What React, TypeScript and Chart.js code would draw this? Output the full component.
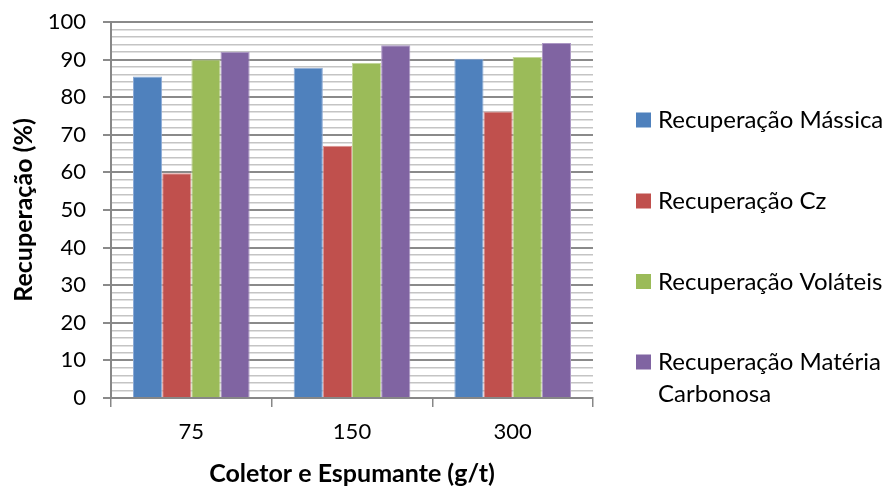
import React, { useEffect, useRef } from "react";
import { Chart, registerables } from "chart.js";

Chart.register(...registerables);

const categories = ["75", "150", "300"];
const seriesNames = [
  "Recuperação Mássica",
  "Recuperação Cz",
  "Recuperação Voláteis",
  "Recuperação Matéria Carbonosa",
];
const massica = [85.5, 87.8, 90.2];
const cz = [59.8, 67.1, 76.2];
const volateis = [90.0, 89.1, 90.7];
const materiaCarbonosa = [92.1, 93.8, 94.4];
const colors = ["#4F81BD", "#C0504D", "#9BBB59", "#8064A2"];
const borderColors = ["#8AAAD6", "#DC9290", "#C3D69B", "#AC97C4"];
const legendLines = [
  ["Recuperação Mássica"],
  ["Recuperação Cz"],
  ["Recuperação Voláteis"],
  ["Recuperação Matéria", "Carbonosa"],
];

const FONT = "Lato, 'Open Sans', sans-serif";

const legendPlugin = {
  id: "customLegend",
  afterDraw(chart: any) {
    const ctx = chart.ctx;
    ctx.save();
    ctx.font = `24px ${FONT}`;
    ctx.textAlign = "left";
    ctx.textBaseline = "alphabetic";
    const centers = [120, 201, 281.5, 362];
    chart.data.datasets.forEach((ds: any, i: number) => {
      const cy = centers[i];
      ctx.fillStyle = ds.backgroundColor;
      ctx.fillRect(636, cy - 7.5, 15, 15);
      ctx.fillStyle = "#000";
      legendLines[i].forEach((line, j) => {
        ctx.fillText(line, 658, cy + 8 + j * 32);
      });
    });
    ctx.restore();
  },
};

export default function App() {
  const ref = useRef<HTMLCanvasElement | null>(null);
  useEffect(() => {
    document.body.style.margin = "0";
    const data = [massica, cz, volateis, materiaCarbonosa];
    const chart = new Chart(ref.current as HTMLCanvasElement, {
      type: "bar",
      data: {
        labels: categories,
        datasets: seriesNames.map((name, i) => ({
          label: name,
          data: data[i],
          backgroundColor: colors[i],
          borderColor: borderColors[i],
          borderWidth: 1,
          barPercentage: 1,
          categoryPercentage: 0.726,
        })),
      },
      options: {
        responsive: false,
        animation: false,
        layout: { padding: { top: 22, right: 301, left: 0, bottom: 0 } },
        plugins: {
          legend: { display: false },
          tooltip: { enabled: false },
        },
        scales: {
          x: {
            afterFit: (s: any) => {
              s.height = 91;
              s.paddingLeft = 0;
              s.paddingRight = 0;
            },
            grid: {
              offset: true,
              drawOnChartArea: false,
              drawTicks: true,
              tickLength: 9,
              color: "#878787",
              lineWidth: 1.5,
            },
            border: { color: "#878787", width: 2 },
            ticks: {
              color: "#000",
              font: { family: FONT, size: 22 },
              padding: 12,
            },
            title: {
              display: true,
              text: "Coletor e Espumante (g/t)",
              color: "#000",
              font: { family: FONT, size: 25, weight: "bold" },
              padding: { top: 0, bottom: 0 },
            },
          },
          y: {
            min: 0,
            max: 100,
            afterFit: (s: any) => {
              s.width = 111;
              s.paddingTop = 0;
              s.paddingBottom = 0;
            },
            ticks: {
              stepSize: 2,
              autoSkip: false,
              color: "#000",
              font: { family: FONT, size: 22 },
              padding: 17,
              callback: (v: any) => (Number(v) % 10 === 0 ? String(v) : ""),
            },
            grid: {
              color: (c: any) =>
                c.tick && c.tick.value % 10 === 0 ? "#8A8A8A" : "#C4C4C4",
              lineWidth: (c: any) =>
                c.tick && c.tick.value % 10 === 0 ? 2 : 1.5,
              tickColor: (c: any) =>
                c.tick && c.tick.value % 10 === 0 ? "#8A8A8A" : "rgba(0,0,0,0)",
              tickLength: 8,
            },
            border: { color: "#878787", width: 2 },
            title: {
              display: true,
              text: "Recuperação (%)",
              color: "#000",
              font: { family: FONT, size: 25, weight: "bold" },
              padding: { top: 9, bottom: 0 },
            },
          },
        },
      },
      plugins: [legendPlugin],
    } as any);
    return () => chart.destroy();
  }, []);
  return (
    <div style={{ position: "fixed", left: 0, top: 0, width: 894, height: 489 }}>
      <canvas ref={ref} width={894} height={489} />
    </div>
  );
}
